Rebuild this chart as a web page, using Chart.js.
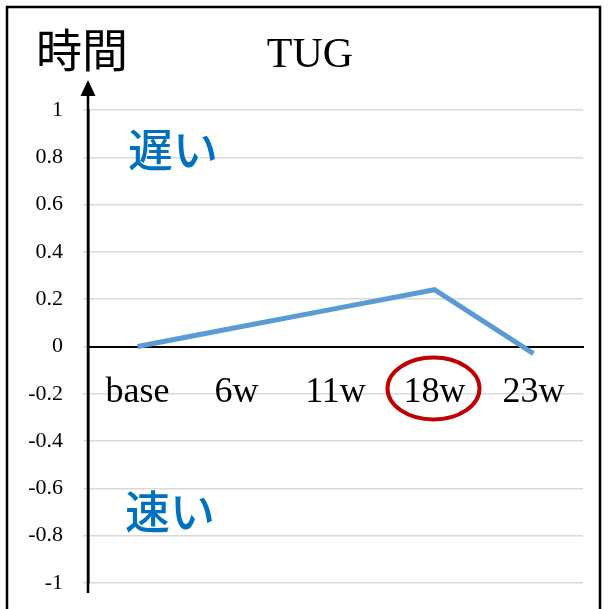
<!DOCTYPE html>
<html>
<head>
<meta charset="utf-8">
<script src="https://cdn.jsdelivr.net/npm/chart.js"></script>
<style>
  body { margin: 0; background: #fff; }
  canvas { display: block; }
</style>
</head>
<body>
<canvas id="tugChart" width="608" height="609"></canvas>
<script>
// chart data
const categories = ['base', '6w', '11w', '18w', '23w'];
const tugValues = [0, 0.08, 0.16, 0.24, -0.03];
const yTickValues = [1, 0.8, 0.6, 0.4, 0.2, 0, -0.2, -0.4, -0.6, -0.8, -1];
const yTickLabels = ['1', '0.8', '0.6', '0.4', '0.2', '0', '-0.2', '-0.4', '-0.6', '-0.8', '-1'];
const highlightCategory = '18w';

// texts and arrow, frame, red circle around the highlighted week
const decorations = {
    id: 'decorations',
    afterDraw(chart) {
        const ctx = chart.ctx;
        const x = chart.scales.x;
        const y = chart.scales.y;
        const axisX = y.right;

        ctx.save();
        // frame
        ctx.strokeStyle = '#000';
        ctx.lineWidth = 2.5;
        ctx.strokeRect(7, 7, 593, 620);

        // extend y axis and draw arrow head
        ctx.lineWidth = 2.5;
        ctx.beginPath();
        ctx.moveTo(axisX, 94);
        ctx.lineTo(axisX, 593);
        ctx.stroke();
        ctx.fillStyle = '#000';
        ctx.beginPath();
        ctx.moveTo(axisX, 80);
        ctx.lineTo(axisX - 7.5, 96);
        ctx.lineTo(axisX + 7.5, 96);
        ctx.closePath();
        ctx.fill();

        // titles
        ctx.textBaseline = 'middle';
        ctx.textAlign = 'left';
        ctx.font = '46px "Noto Sans CJK JP"';
        ctx.fillText('時間', 36, 50);
        ctx.textAlign = 'center';
        ctx.font = '42px "Liberation Serif"';
        ctx.fillText('TUG', 310, 56);

        ctx.fillStyle = '#0070C0';
        ctx.textAlign = 'left';
        ctx.font = '500 45px "Noto Sans CJK JP"';
        ctx.fillText('遅い', 128, 150);
        ctx.fillText('速い', 125, 512);

        // red ellipse
        const cx = x.getPixelForValue(categories.indexOf(highlightCategory));
        const cy = y.getPixelForValue(0) + 42;
        ctx.strokeStyle = '#C00000';
        ctx.lineWidth = 4;
        ctx.beginPath();
        ctx.ellipse(cx - 1, cy, 46, 31, 0, 0, Math.PI * 2);
        ctx.stroke();
        ctx.restore();
    }
};

new Chart(document.getElementById('tugChart').getContext('2d'), {
    type: 'line',
    data: {
        labels: categories,
        datasets: [{
            label: 'TUG',
            data: tugValues,
            borderColor: '#5B9BD5',
            borderWidth: 5,
            pointRadius: 0,
            tension: 0,
            fill: false
        }]
    },
    options: {
        responsive: false,
        animation: false,
        layout: {
            padding: { top: 110, right: 25, bottom: 26, left: 0 }
        },
        plugins: {
            legend: { display: false },
            tooltip: { enabled: false }
        },
        scales: {
            x: {
                position: { y: 0 },
                offset: true,
                grid: { display: false, drawTicks: false },
                border: { color: '#000', width: 2 },
                ticks: {
                    color: '#000',
                    padding: 24,
                    maxRotation: 0,
                    font: { family: 'Liberation Serif', size: 36 }
                }
            },
            y: {
                min: -1,
                max: 1,
                afterFit(scale) {
                    scale.width = 88;
                    scale.paddingTop = 0;
                    scale.paddingBottom = 0;
                },
                afterBuildTicks(scale) {
                    scale.ticks = yTickValues.map(v => ({ value: v }));
                },
                grid: {
                    color: '#D9D9D9',
                    lineWidth: 1.5,
                    tickLength: 5
                },
                border: { color: '#000', width: 2.5 },
                ticks: {
                    color: '#000',
                    padding: 20,
                    font: { family: 'Liberation Serif', size: 22 },
                    callback(value) {
                        const i = yTickValues.findIndex(v => Math.abs(v - value) < 1e-9);
                        return i >= 0 ? yTickLabels[i] : '';
                    }
                }
            }
        }
    },
    plugins: [decorations]
});
</script>
</body>
</html>
